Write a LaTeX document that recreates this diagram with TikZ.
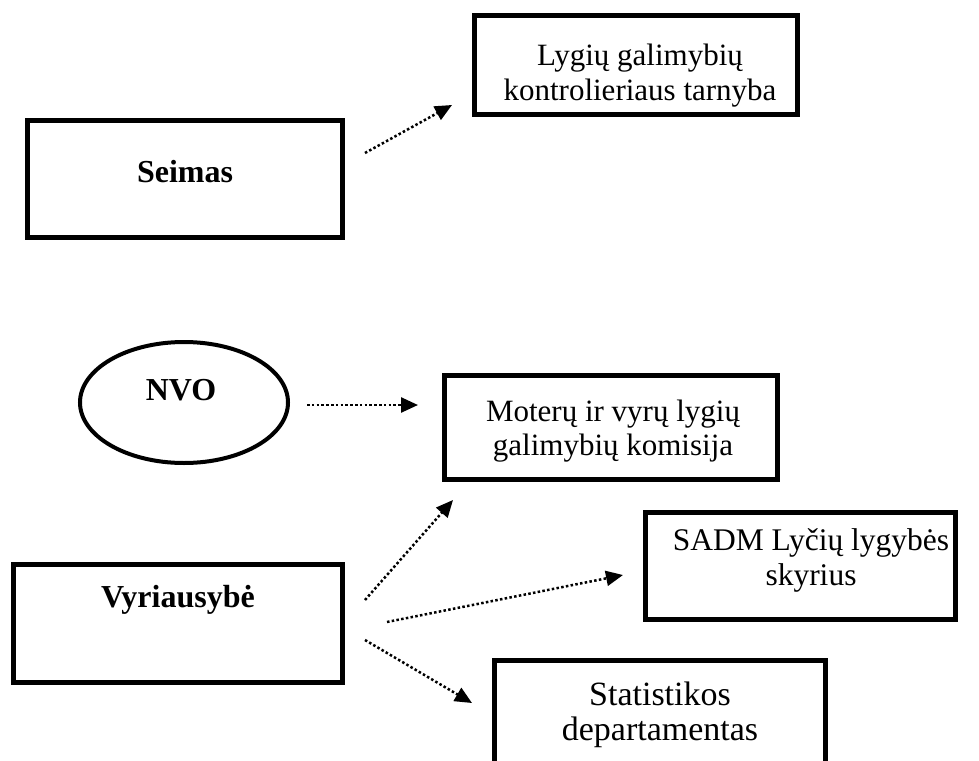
\documentclass[tikz,border=0pt]{standalone}
\usepackage{fontspec}
\setmainfont{Liberation Serif}
\usetikzlibrary{arrows.meta,shapes.geometric}
\begin{document}
\begin{tikzpicture}[x=1pt,y=-1pt,
  box/.style={draw, line width=5pt, inner sep=0pt, rectangle},
  oval/.style={draw, line width=4pt, inner sep=0pt, ellipse},
  lbl/.style={font=\fontsize{31}{34}\selectfont, align=center, anchor=base, inner sep=0pt},
  blbl/.style={lbl, font=\fontsize{32}{35}\selectfont\bfseries},
  dotarrow/.style={line width=2.5pt, dash pattern=on 2.5pt off 2.3pt, -{Triangle[length=17pt,width=15pt]}}
]
\useasboundingbox (0,0) rectangle (979,760);

% boxes
\node[box, minimum width=323pt, minimum height=99pt] (lyg) at (636,65) {};
\node[box, minimum width=315pt, minimum height=117pt] (seimas) at (185,179) {};
\node[oval, minimum width=208pt, minimum height=121pt] (nvo) at (184,402.5) {};
\node[box, minimum width=333pt, minimum height=104pt] (mot) at (611,427.5) {};
\node[box, minimum width=310pt, minimum height=107pt] (sadm) at (800.5,566) {};
\node[box, minimum width=329pt, minimum height=118pt] (vyr) at (178,623.5) {};
\node[box, minimum width=331pt, minimum height=107pt] (stat) at (660,714) {};

% texts (base = baseline of the last line)
\node[lbl, font=\fontsize{31}{35}\selectfont] (lygT) at (640,100) {Lygių galimybių\\kontrolieriaus tarnyba};
\node[blbl] (seimasT) at (185,182) {Seimas};
\node[blbl] (nvoT) at (181,400) {NVO};
\node[lbl, font=\fontsize{31}{33.5}\selectfont] (motT) at (613,455) {Moterų ir vyrų lygių\\galimybių komisija};
\node[lbl, font=\fontsize{31.5}{35}\selectfont] (sadmT) at (811,585) {SADM Lyčių lygybės\\skyrius};
\node[blbl] (vyrT) at (178,607) {Vyriausybė};
\node[lbl, font=\fontsize{34}{35}\selectfont] (statT) at (660,740) {Statistikos\\departamentas};

% connector ends
\coordinate (a1s) at (365,153); \coordinate (a1e) at (452,105);
\coordinate (a2s) at (307,405); \coordinate (a2e) at (418,405);
\coordinate (a3s) at (365,600); \coordinate (a3e) at (453,500);
\coordinate (a4s) at (387,622); \coordinate (a4e) at (623,575);
\coordinate (a5s) at (365,640); \coordinate (a5e) at (472,703);

\draw[dotarrow] (a1s) -- (a1e);
\draw[dotarrow] (a2s) -- (a2e);
\draw[dotarrow] (a3s) -- (a3e);
\draw[dotarrow] (a4s) -- (a4e);
\draw[dotarrow] (a5s) -- (a5e);
\end{tikzpicture}
\end{document}
